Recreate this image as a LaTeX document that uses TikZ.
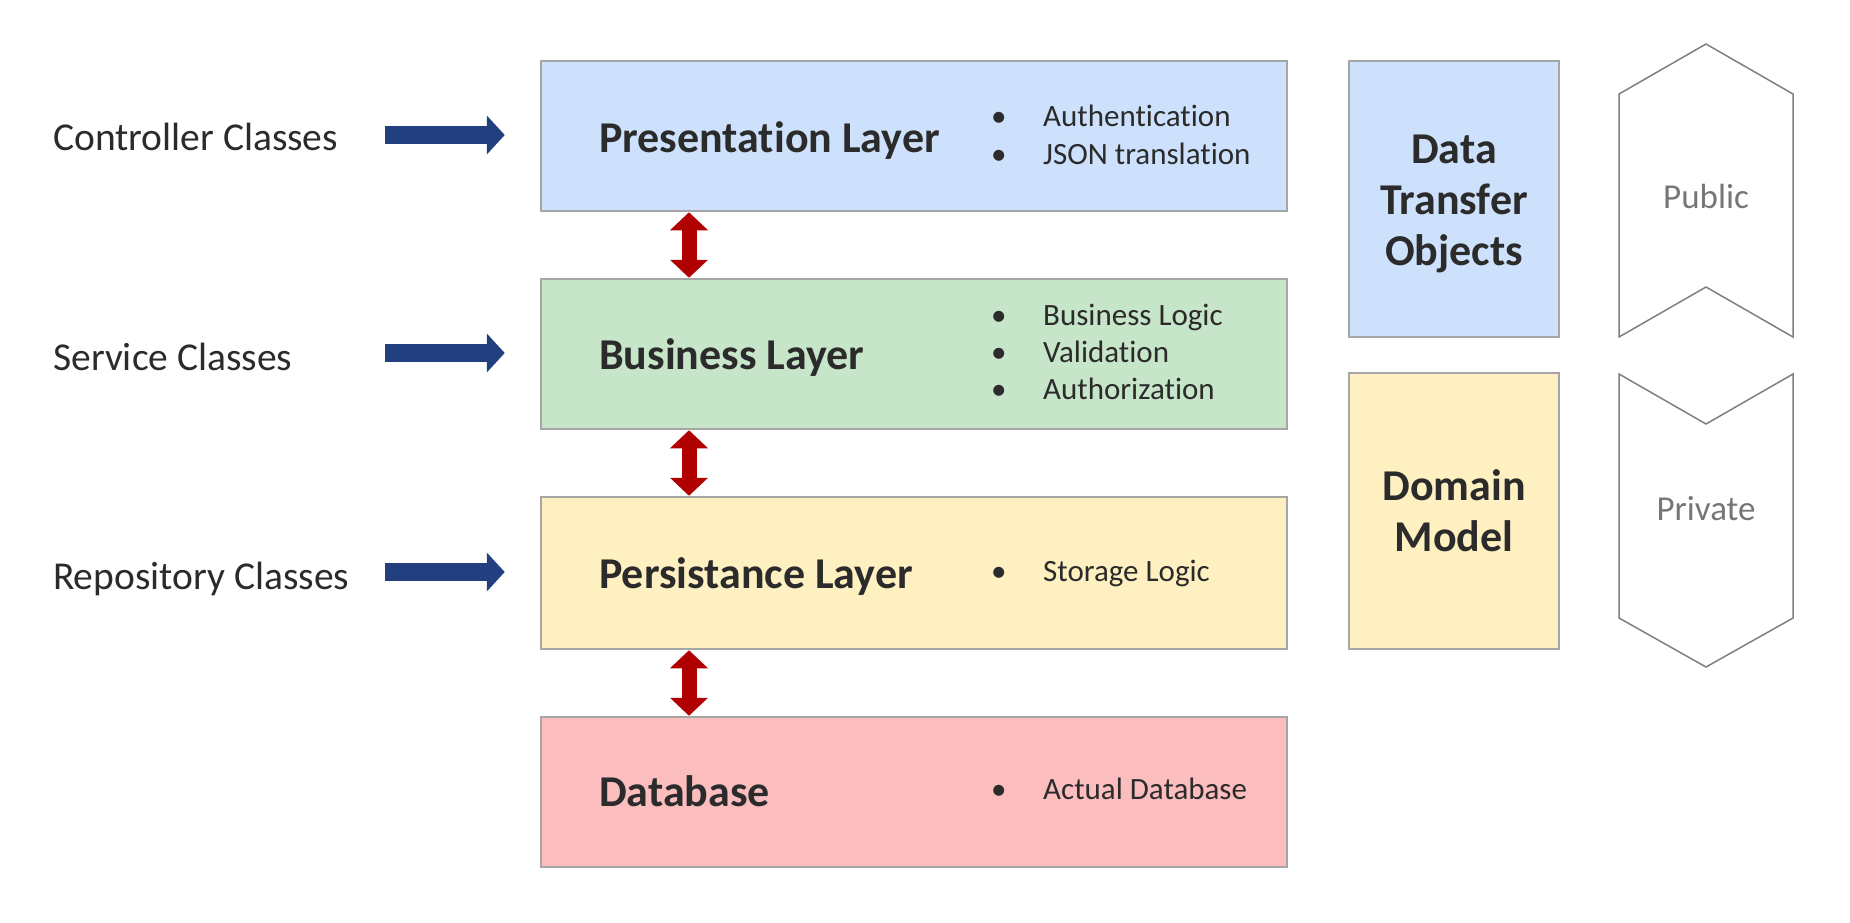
\documentclass[tikz,border=0pt]{standalone}
\usepackage{fontspec}
\setmainfont{Carlito}[RawFeature=-liga]
\usetikzlibrary{arrows.meta}
\definecolor{txt}{HTML}{2B2B2B}
\definecolor{boxline}{HTML}{A6A6A6}
\definecolor{fblue}{HTML}{CDE1FC}
\definecolor{fgreen}{HTML}{C7E5C9}
\definecolor{fyellow}{HTML}{FEF0C0}
\definecolor{fred}{HTML}{FCBDBF}
\definecolor{navy}{HTML}{22407F}
\definecolor{darkred}{HTML}{B00000}
\definecolor{chevgray}{HTML}{7F7F7F}
\definecolor{chevtext}{HTML}{767676}
\newcommand\bulletline[1]{\makebox[52pt][l]{•}#1}
\tikzset{
  layerbox/.style={draw=boxline, line width=2.5pt, minimum width=746pt, minimum height=150pt, inner sep=0pt},
  sidebox/.style={draw=boxline, line width=2.5pt, minimum width=210pt, minimum height=276pt, inner sep=0pt,
    align=center, text=txt, font=\bfseries\fontsize{44}{51}\selectfont},
  title/.style={anchor=base west, inner sep=0pt, text=txt, font=\bfseries\fontsize{44}{52}\selectfont},
  sidelabel/.style={anchor=base west, inner sep=0pt, text=txt, font=\fontsize{39.5}{46}\selectfont},
  bullettext/.style={anchor=base west, inner sep=0pt, text=txt, font=\fontsize{31}{37}\selectfont},
  chevlabel/.style={anchor=base, inner sep=0pt, text=chevtext, font=\fontsize{35}{41}\selectfont},
  bluearrow/.style={draw=navy, line width=18pt, -{Triangle[length=18pt,width=38pt]}},
  redarrow/.style={draw=darkred, line width=15pt, {Triangle[length=18pt,width=37pt]}-{Triangle[length=18pt,width=37pt]}},
  chevron/.style={draw=chevgray, line width=1.5pt, line join=miter}
}
\begin{document}
\begin{tikzpicture}[x=1pt,y=-1pt]
\useasboundingbox (0,0) rectangle (1850,922);

% layer boxes
\node[layerbox, fill=fblue]   (pres) at (914,136) {};
\node[layerbox, fill=fgreen]  (bus)  at (914,354) {};
\node[layerbox, fill=fyellow, minimum height=152pt] (pers) at (914,573) {};
\node[layerbox, fill=fred]    (db)   at (914,792) {};

% titles
\node[title] (prest) at (599,152) {Presentation Layer};
\node[title] (bust)  at (599,369) {Business Layer};
\node[title] (perst) at (599,588) {Persistance Layer};
\node[title] (dbt)   at (599,806) {Database};

% bullets
\node[bullettext] (b1) at (991,126) {\bulletline{Authentication}};
\node[bullettext] (b2) at (991,164) {\bulletline{JSON translation}};
\node[bullettext] (b3) at (991,325) {\bulletline{Business Logic}};
\node[bullettext] (b4) at (991,362) {\bulletline{Validation}};
\node[bullettext] (b5) at (991,399) {\bulletline{Authorization}};
\node[bullettext] (b6) at (991,581) {\bulletline{Storage Logic}};
\node[bullettext] (b7) at (991,799) {\bulletline{Actual Database}};

% left labels
\node[sidelabel] (ctrl) at (53,150) {Controller Classes};
\node[sidelabel] (svc)  at (53,370) {Service Classes};
\node[sidelabel] (repo) at (53,589) {Repository Classes};

% blue arrows
\draw[bluearrow] ([xshift=-155pt,yshift=1pt]pres.west) -- ([xshift=-35pt,yshift=1pt]pres.west);
\draw[bluearrow] ([xshift=-155pt,yshift=1pt]bus.west) -- ([xshift=-35pt,yshift=1pt]bus.west);
\draw[bluearrow] ([xshift=-155pt,yshift=1pt]pers.west) -- ([xshift=-35pt,yshift=1pt]pers.west);

% red arrows
\draw[redarrow] ([xshift=-225pt]pres.south) -- ([xshift=-225pt]bus.north);
\draw[redarrow] ([xshift=-225pt]bus.south) -- ([xshift=-225pt]pers.north);
\draw[redarrow] ([xshift=-225pt]pers.south) -- ([xshift=-225pt]db.north);

% side boxes
\node[sidebox, fill=fblue]   (dto) at (1454,199) {};
\node[align=center, text=txt, font=\bfseries\fontsize{44}{51}\selectfont, inner sep=0pt] (dtot) at (1454,204) {Data\\Transfer\\Objects};
\node[sidebox, fill=fyellow] (dom) at (1454,511) {Domain\\Model};

% chevrons
\draw[chevron] (1619,94) -- (1706,44) -- (1793,94) -- (1793,337) -- (1706,287) -- (1619,337) -- cycle;
\draw[chevron] (1619,374) -- (1706,424) -- (1793,374) -- (1793,618) -- (1706,667) -- (1619,618) -- cycle;
\node[chevlabel] (pub)  at (1706,208) {Public};
\node[chevlabel] (priv) at (1706,520) {Private};
\end{tikzpicture}
\end{document}
